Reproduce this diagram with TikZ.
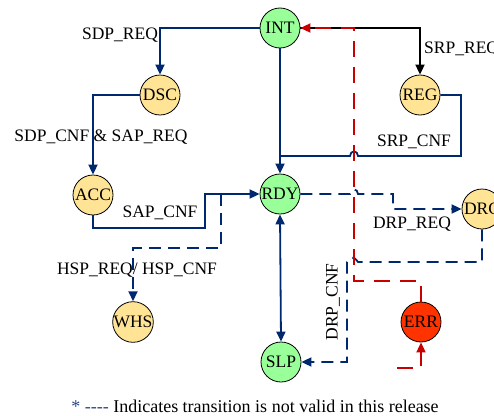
\documentclass[tikz,border=0pt]{standalone}
\usepackage{fontspec}
\setmainfont{Liberation Serif}
\usetikzlibrary{arrows.meta}
\definecolor{bl}{RGB}{0,40,110}
\definecolor{rd}{RGB}{200,0,0}
\definecolor{gr}{RGB}{153,255,153}
\definecolor{yl}{RGB}{255,228,150}
\definecolor{er}{RGB}{255,51,0}
\definecolor{fn}{RGB}{40,70,130}
\begin{document}
\begin{tikzpicture}[x=1pt,y=-1pt,
  font=\fontsize{17.5}{20}\selectfont,
  st/.style={circle,draw=black,line width=0.8pt,minimum size=40pt,inner sep=0pt},
  gst/.style={st,fill=gr},
  yst/.style={st,fill=yl},
  est/.style={st,fill=er},
  bline/.style={draw=bl,line width=1.8pt},
  bdash/.style={bline,dash pattern=on 12pt off 7pt},
  rdash/.style={draw=rd,line width=1.8pt,dash pattern=on 16pt off 10pt},
  tip/.style={-{Triangle[length=10pt,width=9pt]}},
  lbl/.style={inner sep=0pt}]
\useasboundingbox (0,0) rectangle (494,415);
\clip (0,0) rectangle (494,415);
% nodes
\node[gst] (INT) at (280,28) {INT};
\node[yst] (DSC) at (160,95) {DSC};
\node[yst] (REG) at (420,95) {REG};
\node[yst] (ACC) at (93,195) {ACC};
\node[gst] (RDY) at (280,194) {RDY};
\node[yst] (DRC) at (482,209) {DRC};
\node[yst] (WHS) at (133,322) {WHS};
\node[gst] (SLP) at (281,362) {SLP};
\node[est] (ERR) at (421,322) {ERR};
% coordinates
\coordinate (j1) at (280,156);
\coordinate (rg) at (461,156);
\coordinate (ac) at (205,228);
\coordinate (wh) at (221,194);
\coordinate (wh2) at (221,248);
\coordinate (dr) at (393,194);
\coordinate (dc) at (347,262);
\coordinate (ec) at (354,281);
\coordinate (et) at (354,28);
\coordinate (eb) at (397,368);
% blue solid
\draw[bline,tip] (INT.west) -| (DSC.north);
\draw[line width=1.8pt,black,tip] (INT.east) -| (REG.north);
\draw[bline,tip] (DSC.west) -| (ACC.north);
\draw[bline,tip] (INT.south) -- (RDY.north);
\draw[bline] (REG.east) -| (rg) -- (358,156) .. controls (358,150) and (350,150) .. (350,156) -- (j1);
\draw[bline,tip] (ACC.south) |- (ac) |- (RDY.west);
\draw[bline,{Triangle[length=10pt,width=9pt]}-{Triangle[length=10pt,width=9pt]}] (RDY.south) -- (SLP.north);
% blue dashed
\draw[bdash,tip] (wh) -- (wh2) -| (WHS.north);
\draw[bdash,tip] (RDY.east) -- (350,194) .. controls (350,188) and (358,188) .. (358,194) -- (dr) |- (DRC.west);
\draw[bdash,tip] (DRC.south) |- (358,262) .. controls (354,256) and (350,256) .. (dc) -- (347,362) -- (SLP.east);
% red dashed
\draw[rdash,tip] (ERR.north) |- (ec) -- (et) -- (INT.east);
\draw[rdash,tip] (eb) -| (ERR.south);
% labels
\node[lbl] (l1) at (120,35) {SDP\_REQ};
\node[lbl] (l2) at (101,137) {SDP\_CNF \& SAP\_REQ};
\node[lbl] (l3) at (160,213) {SAP\_CNF};
\node[lbl] (l4) at (137,270) {HSP\_REQ/ HSP\_CNF};
\node[lbl,anchor=west] (l5) at (424,49) {SRP\_REQ};
\node[lbl] (l6) at (414,142) {SRP\_CNF};
\node[lbl] (l7) at (412,224) {DRP\_REQ};
\node[lbl,rotate=90] (l8) at (333,302) {DRP\_CNF};
\node[lbl,anchor=base,font=\fontsize{18}{20}\selectfont] (fn) at (255,412) {{\color{fn}* {-}{-}{-}{-}} Indicates transition is not valid in this release};
\end{tikzpicture}
\end{document}
